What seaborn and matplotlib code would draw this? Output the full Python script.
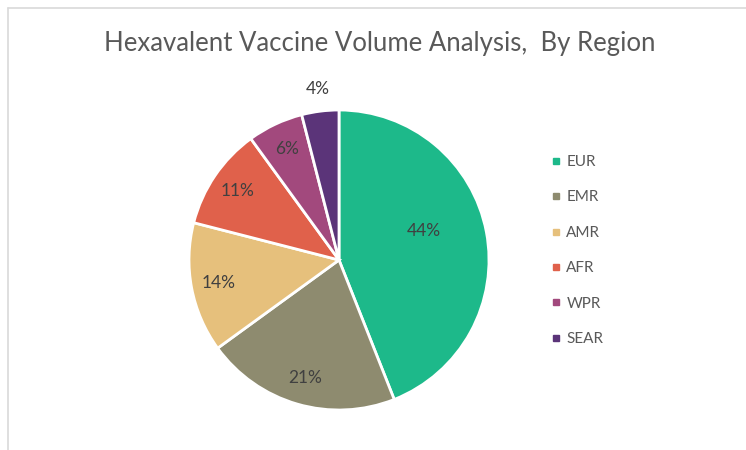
import numpy as np
import matplotlib
matplotlib.use("Agg")
import matplotlib.pyplot as plt
import seaborn as sns
from matplotlib.lines import Line2D

sns.set_theme(style="white")
plt.rcParams['font.family'] = ['Lato', 'DejaVu Sans']

# data
regions = ['EUR', 'EMR', 'AMR', 'AFR', 'WPR', 'SEAR']
shares = [44, 21, 14, 11, 6, 4]
colours = ['#1DB98A', '#8E8B6F', '#E6C07C', '#E0614B', '#A2497D', '#5B3479']
pal = sns.color_palette(colours)

text_col = '#404040'

fig = plt.figure(figsize=(7.46, 4.5), dpi=100)
W, H = 746, 450

# thin frame like the spreadsheet chart area
fig.add_artist(Line2D([8 / W, 1], [1 - 8 / H, 1 - 8 / H], color='#d9d9d9', lw=1.2))
fig.add_artist(Line2D([8 / W, 8 / W], [0, 1 - 8 / H], color='#d9d9d9', lw=1.2))

cx, cy, r = 339, 260, 150
ax = fig.add_axes([(cx - r) / W, (H - cy - r) / H, 2 * r / W, 2 * r / H])

wedges, _ = ax.pie(shares, colors=pal, startangle=90, counterclock=False,
                   wedgeprops=dict(edgecolor='white', linewidth=2))
ax.set_xlim(-1, 1)
ax.set_ylim(-1, 1)
ax.set_aspect('equal')

# percentage labels, mostly near the rim; the big one further in, the tiny one outside
dist = {'EUR': 0.6, 'SEAR': 1.15}
for w, name, v in zip(wedges, regions, shares):
    ang = np.deg2rad((w.theta1 + w.theta2) / 2)
    if name == 'EUR':
        ang += np.deg2rad(8)
    d = dist.get(name, 0.82)
    ax.text(d * np.cos(ang), d * np.sin(ang), f'{v}%', ha='center', va='center',
            fontsize=12.5, color=text_col)

fig.text(380 / W, 1 - 44 / H, 'Hexavalent Vaccine Volume Analysis,  By Region',
         ha='center', va='center', fontsize=18.5, color='#595959')

handles = [Line2D([], [], marker='s', ls='', markersize=5, color=c) for c in pal]
fig.legend(handles, regions, loc='upper left', bbox_to_anchor=(545 / W, 1 - 149 / H),
           frameon=False, fontsize=11, labelcolor='#595959', handlelength=0.6,
           handletextpad=0.4, labelspacing=1.4, borderaxespad=0)

fig.savefig('out.png', dpi=100)
